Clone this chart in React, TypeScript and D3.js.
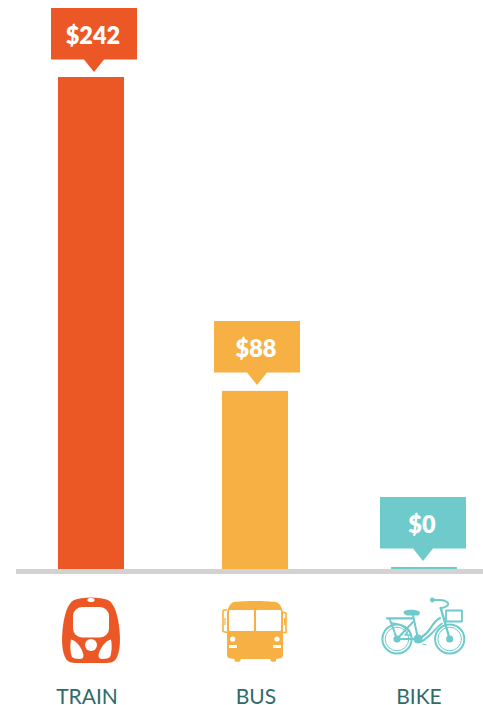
import React from "react";
import * as d3 from "d3";

const categories = ["TRAIN", "BUS", "BIKE"];
const values = [242, 87.6, 1];
const valueLabels = ["$242", "$88", "$0"];
const colors = ["#ec5726", "#f7b043", "#6fcbcb"];
const centers = [91, 255, 424];
const calloutCenters = [94, 257, 423];
const labelCenters = [87, 256, 419];

const WIDTH = 483;
const HEIGHT = 705;
const BASE = 569;
const BAR_W = 66;

const x = d3.scaleOrdinal<string, number>().domain(categories).range(centers);
const calloutX = d3.scaleOrdinal<string, number>().domain(categories).range(calloutCenters);
const labelX = d3.scaleOrdinal<string, number>().domain(categories).range(labelCenters);
const y = d3.scaleLinear().domain([0, 242]).range([BASE, 77]);

const FONT = "Lato, 'Open Sans', sans-serif";

function Callout({ cx, top, color, text }: { cx: number; top: number; color: string; text: string }) {
  const t = Math.round(top - 69.5);
  return (
    <g>
      <path
        d={`M${cx - 43} ${t}H${cx + 43}V${t + 51.5}H${cx + 10}L${cx} ${t + 64}L${cx - 10} ${t + 51.5}H${cx - 43}Z`}
        fill={color}
      />
      <text
        x={cx - 1}
        y={t + 36}
        textAnchor="middle"
        fontFamily={FONT}
        fontWeight={800}
        fontSize={23.5}
        fill="#fff"
      >
        {text}
      </text>
    </g>
  );
}

function TrainIcon({ color }: { color: string }) {
  return (
    <g>
      <path
        fill={color}
        d="M-17 -30C-9 -33.5 9 -33.5 17 -30C24 -26 27 -14 28.5 0C29.5 12 29 22 25 29C23 32 19 33 15 33H-15C-19 33 -23 32 -25 29C-29 22 -29.5 12 -28.5 0C-27 -14 -24 -26 -17 -30Z"
      />
      <ellipse cx={0} cy={-30} rx={3.6} ry={2} fill="#fff" />
      <rect x={-18} y={-23} width={36} height={30.5} rx={9} fill="#fff" />
      <circle cx={0} cy={15} r={6} fill="#fff" />
      <path fill="#fff" d="M-20 9.5C-14 11 -9 18 -7.5 25C-7.5 28 -9 29 -11 29C-15 29 -18 28 -19 27C-21 22 -21 14 -20 9.5Z" />
      <path fill="#fff" d="M20 9.5C14 11 9 18 7.5 25C7.5 28 9 29 11 29C15 29 18 28 19 27C21 22 21 14 20 9.5Z" />
    </g>
  );
}

function BusIcon({ color }: { color: string }) {
  return (
    <g>
      <path
        fill={color}
        d="M-21 -28C-12 -29.5 12 -29.5 21 -28C25 -27 27 -22 28 -18V24C28 27 27 28.5 24 28.5L21 29V31C21 32 16 32 15.5 31V29H-14.5V31C-15 32 -20 32 -20.5 31V29L-24 28.5C-27 28.5 -28 27 -28 24V-18C-27 -22 -25 -27 -21 -28Z"
      />
      <rect x={-26} y={-20} width={25} height={21} rx={1} fill="#fff" />
      <rect x={1} y={-20} width={25} height={21} rx={1} fill="#fff" />
      <circle cx={-22.3} cy={9} r={2.6} fill="#fff" />
      <circle cx={22} cy={9} r={2.6} fill="#fff" />
      <rect x={-26} y={15} width={8} height={3} fill="#fff" />
      <rect x={18} y={15} width={8} height={3} fill="#fff" />
      <path fill="none" stroke={color} strokeWidth={1.6} d="M-28 -20.5L-32 -19.5V1.5L-28 2.5" />
      <path fill="none" stroke={color} strokeWidth={1.6} d="M27.5 -18L31 -17V2.5H27.5" />
      <path fill="none" stroke={color} strokeWidth={1.2} d="M-30 -12V-5M29.5 -12V-5" />
    </g>
  );
}

function BikeIcon({ color }: { color: string }) {
  // origin at the crank
  const s = { fill: "none", stroke: color, strokeLinecap: "round" as const, strokeLinejoin: "round" as const };
  return (
    <g>
      {[-21, 31.7].map((c) => (
        <g key={c}>
          <circle cx={c} cy={0} r={14.6} {...s} strokeWidth={2} />
          <circle cx={c} cy={0} r={11.8} {...s} strokeWidth={1} />
          <circle cx={c} cy={0} r={3.6} fill={color} />
        </g>
      ))}
      <path {...s} strokeWidth={2.2} d="M-31 -20.7H-5" />
      <path {...s} strokeWidth={2} d="M-28.3 -20L-21 0H0L-5 -24" />
      <path {...s} strokeWidth={2} d="M-21 0L-5 -17" />
      <path {...s} strokeWidth={1.4} d="M-26 -16C-20 -15.5 -15 -13 -12 -10M-13 -4L-9 -9L-7 -4Z" />
      <path fill={color} d="M-14 -28C-9 -30 -2 -29.5 1.5 -27.5C2.5 -25 1 -23.5 -1 -23.5L-10 -23.5C-13 -23.5 -15.5 -26 -14 -28Z" />
      <path {...s} strokeWidth={2.2} d="M0 0C5 -2 9 -6 12 -10C15 -15 18 -19 22 -21" />
      <path {...s} strokeWidth={1.8} d="M3.3 2.7C8 0 11 -3 14 -6C18 -10 20 -13 24 -15.5" />
      <path {...s} strokeWidth={2.4} d="M31.7 0L22.7 -31" />
      <path {...s} strokeWidth={2} d="M14.3 -39H22C28 -39 31 -36 30 -34C29 -32.5 26 -31.5 22.7 -30.7" />
      <circle cx={14.3} cy={-39} r={2.4} fill={color} />
      <rect x={28} y={-28.5} width={16} height={11} {...s} strokeWidth={1.8} />
      <path {...s} strokeWidth={1.1} d="M5 5L8 6" />
      <circle cx={0} cy={0} r={4.6} fill={color} />
    </g>
  );
}

const icons = [
  (c: string) => <g transform="translate(91,630)"><TrainIcon color={c} /></g>,
  (c: string) => <g transform="translate(255,630)"><BusIcon color={c} /></g>,
  (c: string) => <g transform="translate(418,639)"><BikeIcon color={c} /></g>,
];

export default function App() {
  return (
    <svg
      width={WIDTH}
      height={HEIGHT}
      style={{ position: "absolute", left: 0, top: 0, display: "block", background: "#fff" }}
    >
      {categories.map((c, i) => (
        <g key={c}>
          <rect
            x={x(c) - BAR_W / 2}
            y={y(values[i])}
            width={BAR_W}
            height={BASE - y(values[i])}
            fill={colors[i]}
          />
          <Callout cx={calloutX(c)} top={y(values[i])} color={colors[i]} text={valueLabels[i]} />
          {icons[i](colors[i])}
          <text
            x={labelX(c)}
            y={703.5}
            textAnchor="middle"
            fontFamily={FONT}
            fontSize={21}
            fill="#2f6b6b"
          >
            {c}
          </text>
        </g>
      ))}
      <rect x={16} y={BASE} width={WIDTH - 16} height={5} fill="#d2d2d2" />
    </svg>
  );
}
